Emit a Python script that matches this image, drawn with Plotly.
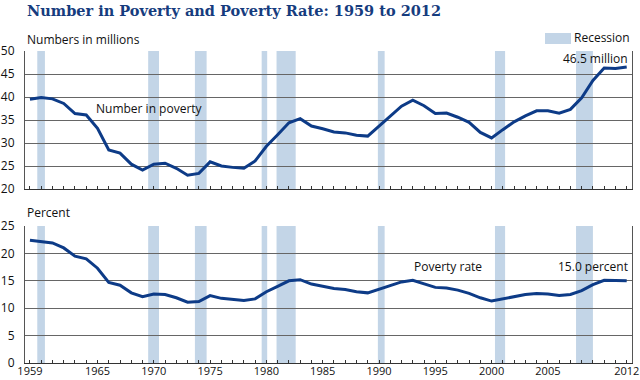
import plotly.graph_objects as go

years = list(range(1959, 2013))
number_millions = [39.5, 39.9, 39.6, 38.6, 36.4, 36.1, 33.2, 28.5, 27.8, 25.4,
                   24.1, 25.4, 25.6, 24.5, 23.0, 23.4, 25.9, 25.0, 24.7, 24.5,
                   26.1, 29.3, 31.8, 34.4, 35.3, 33.7, 33.1, 32.4, 32.2, 31.7,
                   31.5, 33.6, 35.7, 38.0, 39.3, 38.1, 36.4, 36.5, 35.6, 34.5,
                   32.3, 31.1, 32.9, 34.6, 35.9, 37.0, 37.0, 36.5, 37.3, 39.8,
                   43.6, 46.3, 46.2, 46.5]
poverty_rate = [22.4, 22.2, 21.9, 21.0, 19.5, 19.0, 17.3, 14.7, 14.2, 12.8,
                12.1, 12.6, 12.5, 11.9, 11.1, 11.2, 12.3, 11.8, 11.6, 11.4,
                11.7, 13.0, 14.0, 15.0, 15.2, 14.4, 14.0, 13.6, 13.4, 13.0,
                12.8, 13.5, 14.2, 14.8, 15.1, 14.5, 13.8, 13.7, 13.3, 12.7,
                11.9, 11.3, 11.7, 12.1, 12.5, 12.7, 12.6, 12.3, 12.5, 13.2,
                14.3, 15.1, 15.0, 15.0]
recession_start = [1959.65, 1969.5, 1973.65, 1979.58, 1980.9, 1989.9, 2000.3, 2007.5]
recession_end = [1960.33, 1970.46, 1974.69, 1980.07, 1982.6, 1990.5, 2001.2, 2009.0]
x_tickvals = [1959, 1965, 1970, 1975, 1980, 1985, 1990, 1995, 2000, 2005, 2012]
x_ticktext = [str(v) for v in x_tickvals]

LINE = "#0d3b87"
BAND = "#c3d5e7"
GRID = "#666666"
TXT = "#111111"
FONT = "Open Sans"

fig = go.Figure()
fig.add_trace(go.Scatter(x=years, y=number_millions, mode="lines",
                         line=dict(color=LINE, width=3), xaxis="x", yaxis="y",
                         showlegend=False, hoverinfo="skip"))
fig.add_trace(go.Scatter(x=years, y=poverty_rate, mode="lines",
                         line=dict(color=LINE, width=3), xaxis="x2", yaxis="y2",
                         showlegend=False, hoverinfo="skip"))

shapes = []
for s, e in zip(recession_start, recession_end):
    for xr_, yr_ in (("x", "y domain"), ("x2", "y2 domain")):
        shapes.append(dict(type="rect", xref=xr_, yref=yr_, x0=s, x1=e, y0=0, y1=1,
                           fillcolor=BAND, line=dict(width=0), layer="below"))
# legend swatch
shapes.append(dict(type="rect", xref="paper", yref="paper",
                   x0=(545 - 25) / 607, x1=(571 - 25) / 607,
                   y0=(363 - 44) / 312, y1=(363 - 33) / 312,
                   fillcolor=BAND, line=dict(width=0)))

xr = [1958.56, 2012.47]
xcommon = dict(range=xr, showgrid=False, zeroline=False, showline=True,
               linecolor="#333333", linewidth=1, mirror=False, automargin=False,
               tickmode="array", tickvals=x_tickvals, ticktext=x_ticktext,
               ticks="inside", ticklen=3, tickcolor="#333333",
               minor=dict(tickvals=years, ticks="inside", ticklen=3, tickcolor="#333333"),
               tickfont=dict(family=FONT, size=11, color=TXT),
               ticklabeloverflow="allow", ticklabelstandoff=-2, fixedrange=True)
ycommon = dict(showgrid=True, gridcolor=GRID, gridwidth=1, zeroline=False,
               showline=True, linecolor="#555555", linewidth=1, mirror=True,
               automargin=False,
               ticks="", tickfont=dict(family=FONT, size=12, color=TXT),
               ticklabelstandoff=7, fixedrange=True)

fig.update_layout(
    width=640, height=380,
    margin=dict(l=25, r=8, t=51, b=17),
    plot_bgcolor="white", paper_bgcolor="white",
    xaxis=dict(xcommon, anchor="y", showticklabels=False),
    yaxis=dict(ycommon, domain=[0.5577, 1.0], range=[20, 50], tickvals=[20, 25, 30, 35, 40, 45, 50]),
    xaxis2=dict(xcommon, anchor="y2"),
    yaxis2=dict(ycommon, domain=[0.0, 0.4391], range=[0, 25], tickvals=[0, 5, 10, 15, 20, 25]),
    shapes=shapes,
    showlegend=False,
)

fig.add_annotation(text="<b>Number in Poverty and Poverty Rate: 1959 to 2012</b>",
                   xref="paper", yref="paper", x=0, y=(363 - 10) / 312,
                   xanchor="left", yanchor="middle", showarrow=False,
                   font=dict(family="DejaVu Serif", size=14.5, color="#163c7e"))

def ann(text, x, y, xanchor="left", xref="paper", yref="paper"):
    fig.add_annotation(text=text, x=x, y=y, xref=xref, yref=yref, xanchor=xanchor,
                       yanchor="middle", showarrow=False,
                       font=dict(family=FONT, size=12, color=TXT))

ann("Numbers in millions", 0, (363 - 40) / 312)
ann("Percent", 0, (363 - 213) / 312)
ann("Recession", 1.0, (363 - 38) / 312, xanchor="right")
ann("Number in poverty", 1964.7, 37.5, xref="x", yref="y")
ann("46.5 million", 2012.3, 48.3, xanchor="right", xref="x", yref="y")
ann("Poverty rate", 1992.9, 17.7, xref="x2", yref="y2")
ann("15.0 percent", 2012.3, 17.7, xanchor="right", xref="x2", yref="y2")

fig.write_html("out.html", config={"displayModeBar": False},
               post_script="document.body.style.margin='0';document.body.style.padding='0';")
